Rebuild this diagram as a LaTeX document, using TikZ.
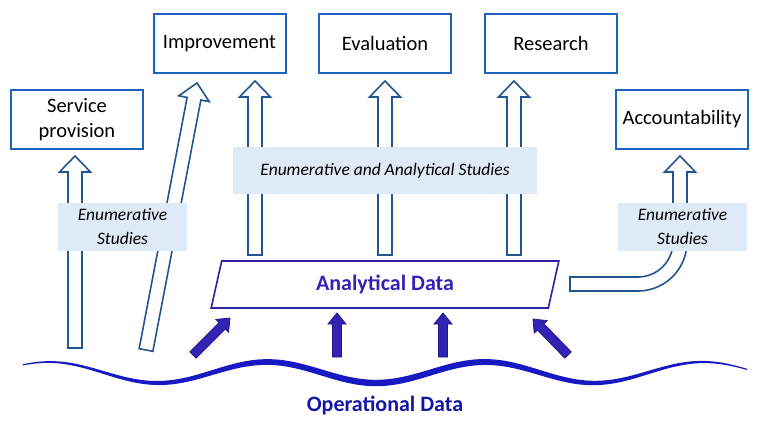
\documentclass[tikz,border=0pt]{standalone}
\usepackage{fontspec}
\setmainfont{Carlito}
\usetikzlibrary{shapes.geometric, calc}
\definecolor{boxblue}{RGB}{30,100,190}
\definecolor{shaftblue}{RGB}{35,85,145}
\definecolor{labfill}{RGB}{222,234,246}
\definecolor{indigo}{RGB}{50,35,180}
\definecolor{waveblue}{RGB}{25,25,195}

% block arrow: style, tail, tip, half shaft, half head, head length
\newcommand{\fatarrow}[6]{%
  \coordinate (neck) at ($(#3)!#6!(#2)$);
  \path[#1] ($(#2)!#4!90:(#3)$) -- ($(neck)!#4!90:(#3)$) -- ($(neck)!#5!90:(#3)$) -- (#3)
    -- ($(neck)!#5!-90:(#3)$) -- ($(neck)!#4!-90:(#3)$) -- ($(#2)!#4!-90:(#3)$) -- cycle;}

\begin{document}
\begin{tikzpicture}[
          x=1pt, y=-1pt,
          box/.style={rectangle, draw=boxblue, line width=2pt, fill=white,
                      minimum width=132pt, minimum height=59pt, inner sep=0pt,
                      font=\fontsize{20.5}{25}\selectfont, align=center},
          lab/.style={rectangle, fill=labfill, inner sep=0pt,
                      minimum width=129pt, minimum height=48pt,
                      font=\fontsize{17.5}{24}\selectfont\itshape, align=center},
          harrow/.style={draw=shaftblue, line width=1.6pt, fill=white, line join=miter},
          sarrow/.style={draw=indigo!75!black, line width=0.8pt, fill=indigo}
        ]
        \useasboundingbox (0,0) rectangle (770,433);
        % target boxes
        \node[box] (serv) at (77,119.5) {Service\\provision};
        \node[box] (impr) at (219.5,43.5) {Improvement};
        \node[box] (eval) at (385,43.5) {Evaluation};
        \node[box] (res) at (551,43.5) {Research};
        \node[box] (acc) at (682,119.5) {Accountability};
        % analytical data
        \node[trapezium, trapezium left angle=76.8, trapezium right angle=103.2,
              trapezium stretches=true, minimum width=348pt, minimum height=47pt,
              draw=indigo!90!black, line width=1.6pt, inner sep=0pt,
              text=indigo, font=\bfseries\fontsize{22}{26}\selectfont] (ad) at (385,284.5) {Analytical Data};
        % hollow arrows
        \coordinate (servt) at (75,348);
        \coordinate (imprd) at (146,350);
        \coordinate (imprv) at (255,255);
        \coordinate (evalt) at (385,255);
        \coordinate (rest) at (514,255);
        \fatarrow{harrow}{servt}{75,156}{7pt}{15.5pt}{16pt}
        \fatarrow{harrow}{imprd}{197,83}{7pt}{15.5pt}{16pt}
        \fatarrow{harrow}{imprv}{255,81}{7pt}{15.5pt}{16pt}
        \fatarrow{harrow}{evalt}{385,81}{7pt}{15.5pt}{16pt}
        \fatarrow{harrow}{rest}{514,81}{7pt}{15.5pt}{16pt}
        % curved arrow to accountability
        \draw[harrow] (570,277) -- (638,277) .. controls (657.3,277) and (673,261.3) .. (673,242)
          -- (673,172) -- (664.5,172) -- (680,156) -- (695.5,172) -- (687,172) -- (687,242)
          .. controls (687,269) and (665,291) .. (638,291) -- (570,291) -- cycle;
        % study labels
        \node[lab, minimum width=304pt, minimum height=47pt] (both) at (385,170.5) {Enumerative and Analytical Studies};
        \node[lab] (enl) at (122.5,227) {Enumerative\\Studies};
        \node[lab] (enr) at (682.5,227) {Enumerative\\Studies};
        % operational data
        \fill[waveblue] plot[domain=23:747, samples=150]
            (\x, {372.5+10.5*cos((\x-158)*1.6514) - (0.6+2.6*sin((\x-23)*0.2486))})
          -- plot[domain=747:23, samples=150]
            (\x, {372.5+10.5*cos((\x-158)*1.6514) + (0.6+2.6*sin((\x-23)*0.2486))}) -- cycle;
        \node[text=waveblue!85!black, font=\bfseries\fontsize{22}{26}\selectfont] (op) at (385,405) {Operational Data};
        % solid arrows
        \coordinate (s1) at (193,355);
        \coordinate (s2) at (337,357);
        \coordinate (s3) at (443,357);
        \coordinate (s4) at (568,355);
        \fatarrow{sarrow}{s1}{230,318}{4.5pt}{9pt}{11pt}
        \fatarrow{sarrow}{s2}{337,313}{4.5pt}{9pt}{11pt}
        \fatarrow{sarrow}{s3}{443,313}{4.5pt}{9pt}{11pt}
        \fatarrow{sarrow}{s4}{533,319}{4.5pt}{9pt}{11pt}
      \end{tikzpicture}
\end{document}
